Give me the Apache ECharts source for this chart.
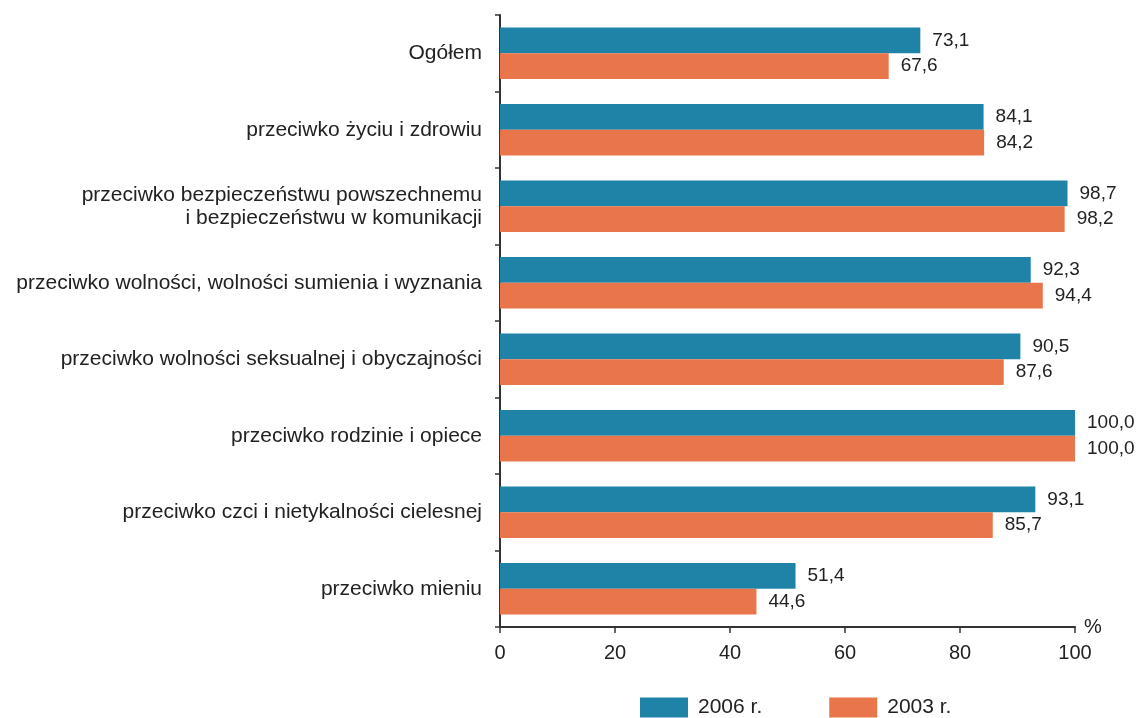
<!DOCTYPE html>
<html>
<head>
<meta charset="utf-8">
<script src="https://cdn.jsdelivr.net/npm/echarts@6/dist/echarts.min.js"></script>
<style>
  html, body { margin: 0; padding: 0; background: #fff; }
  #chart { width: 1137px; height: 718px; }
</style>
</head>
<body>
<div id="chart"></div>
<script>
var categories = [
    'Ogółem',
    'przeciwko życiu i zdrowiu',
    'przeciwko bezpieczeństwu powszechnemu\ni bezpieczeństwu w komunikacji',
    'przeciwko wolności, wolności sumienia i wyznania',
    'przeciwko wolności seksualnej i obyczajności',
    'przeciwko rodzinie i opiece',
    'przeciwko czci i nietykalności cielesnej',
    'przeciwko mieniu'
];
var values2006 = [73.1, 84.1, 98.7, 92.3, 90.5, 100.0, 93.1, 51.4];
var values2003 = [67.6, 84.2, 98.2, 94.4, 87.6, 100.0, 85.7, 44.6];
var xTicks = [0, 20, 40, 60, 80, 100];

var chart = echarts.init(document.getElementById('chart'));
var font = 'Liberation Sans, Arial, sans-serif';

// liczby z przecinkiem
function fmt(v) {
    return v.toFixed(1).replace('.', ',');
}

function barLabel() {
    return {
        show: true,
        position: 'right',
        distance: 12,
        fontSize: 19,
        color: '#222',
        formatter: function (p) { return fmt(p.value); }
    };
}

var option = {
    backgroundColor: '#ffffff',
    textStyle: { fontFamily: font, color: '#222' },
    animation: false,
    grid: {
        left: 500,
        right: 62,
        top: 15,
        bottom: 91
    },
    legend: {
        data: ['2006 r.', '2003 r.'],
        left: 635,
        top: 692,
        itemWidth: 48,
        itemHeight: 20,
        itemGap: 67,
        icon: 'rect',
        textStyle: { fontSize: 21, color: '#222', fontFamily: font, padding: [0, 0, 0, 5] }
    },
    xAxis: {
        type: 'value',
        min: xTicks[0],
        max: xTicks[xTicks.length - 1],
        interval: 20,
        name: '%',
        nameLocation: 'end',
        nameGap: 9,
        nameTextStyle: { fontSize: 20, color: '#222' },
        splitLine: { show: false },
        axisLine: { show: true, lineStyle: { color: '#333', width: 2 } },
        axisTick: { show: true, length: 6, lineStyle: { color: '#333', width: 1.5 } },
        axisLabel: { fontSize: 20, color: '#222', margin: 16 }
    },
    yAxis: {
        type: 'category',
        data: categories,
        inverse: true,
        axisLine: { show: true, lineStyle: { color: '#333', width: 2 } },
        axisTick: { show: true, length: 5, alignWithLabel: false, lineStyle: { color: '#333', width: 1.5 } },
        axisLabel: { fontSize: 21, color: '#222', margin: 18, align: 'right', lineHeight: 23 }
    },
    series: [
        {
            name: '2006 r.',
            type: 'bar',
            data: values2006,
            barGap: '0%',
            barCategoryGap: '33%',
            itemStyle: { color: '#1f83a8' },
            label: barLabel()
        },
        {
            name: '2003 r.',
            type: 'bar',
            data: values2003,
            barGap: '0%',
            barCategoryGap: '33%',
            itemStyle: { color: '#e8764a' },
            label: barLabel()
        }
    ]
};

chart.setOption(option);
</script>
</body>
</html>
